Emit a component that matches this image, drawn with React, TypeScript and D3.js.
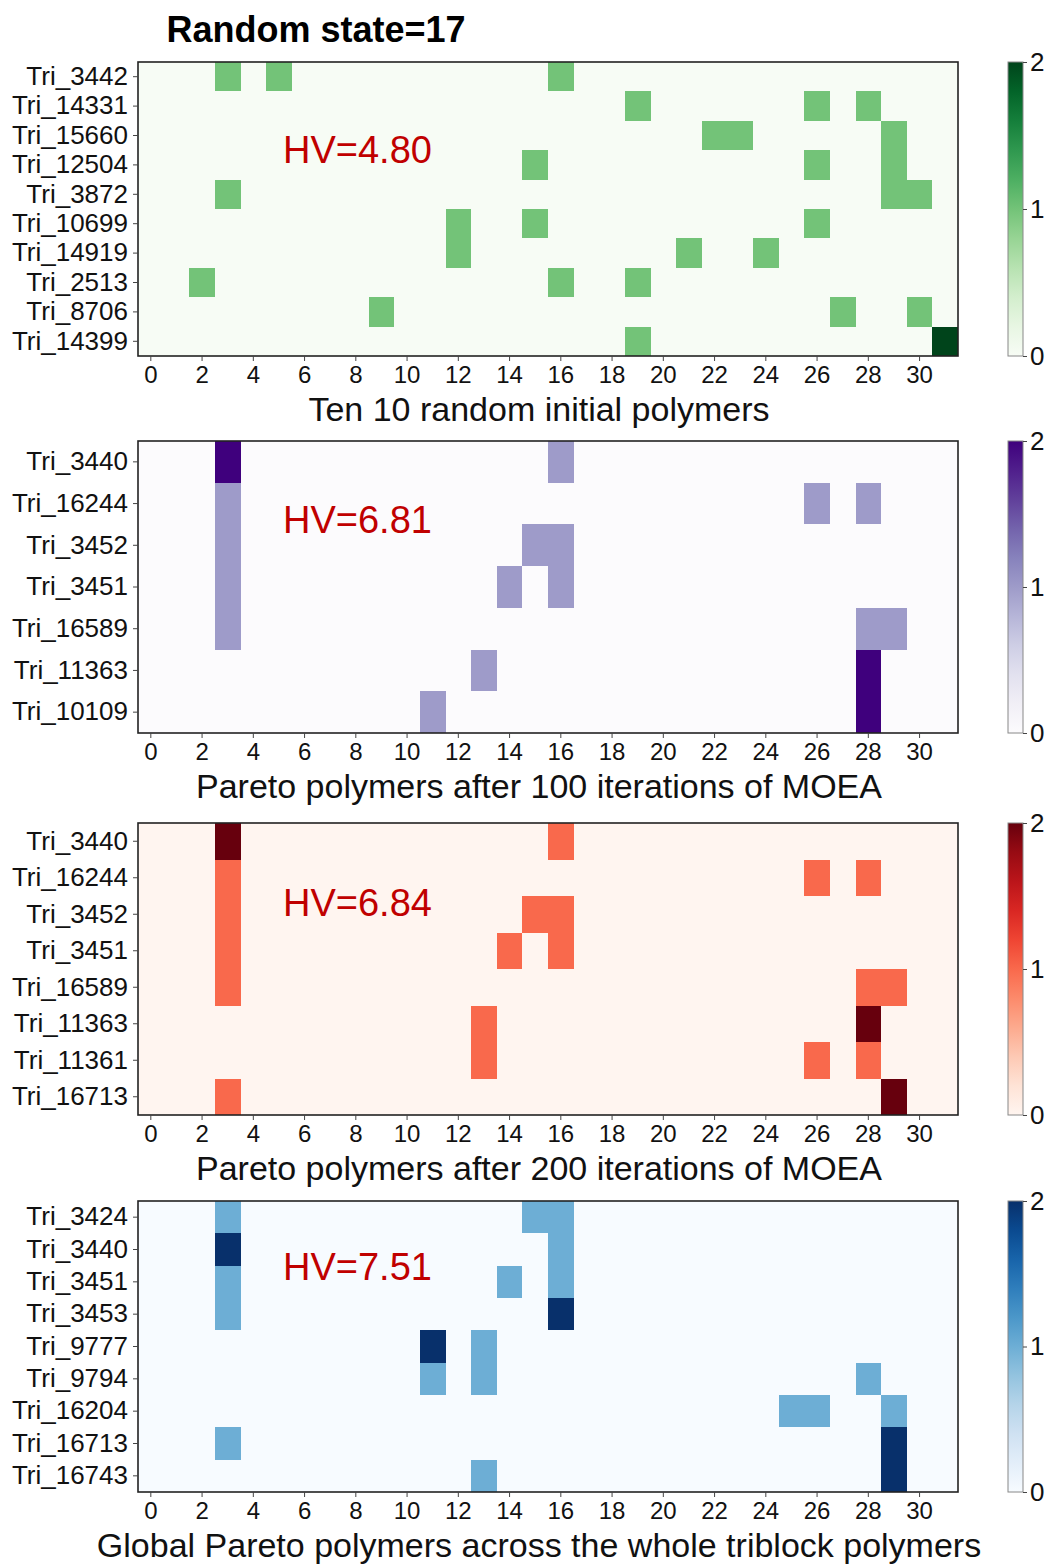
import React, { useEffect, useRef } from 'react';
import * as d3 from 'd3';

// column index along the triblock sequence
const columns = d3.range(0, 32);
const xTickLabels = [0, 2, 4, 6, 8, 10, 12, 14, 16, 18, 20, 22, 24, 26, 28, 30];
const colorbarTicks = [0, 1, 2];

// panel 1: ten random initial polymers
const randomRows = ['Tri_3442', 'Tri_14331', 'Tri_15660', 'Tri_12504', 'Tri_3872', 'Tri_10699', 'Tri_14919', 'Tri_2513', 'Tri_8706', 'Tri_14399'];
const randomCells = [
  [0, 3, 1], [0, 5, 1], [0, 16, 1],
  [1, 19, 1], [1, 26, 1], [1, 28, 1],
  [2, 22, 1], [2, 23, 1], [2, 29, 1],
  [3, 15, 1], [3, 26, 1], [3, 29, 1],
  [4, 3, 1], [4, 29, 1], [4, 30, 1],
  [5, 12, 1], [5, 15, 1], [5, 26, 1],
  [6, 12, 1], [6, 21, 1], [6, 24, 1],
  [7, 2, 1], [7, 16, 1], [7, 19, 1],
  [8, 9, 1], [8, 27, 1], [8, 30, 1],
  [9, 19, 1], [9, 31, 2],
];

// panel 2: after 100 iterations
const iter100Rows = ['Tri_3440', 'Tri_16244', 'Tri_3452', 'Tri_3451', 'Tri_16589', 'Tri_11363', 'Tri_10109'];
const iter100Cells = [
  [0, 3, 2], [0, 16, 1],
  [1, 3, 1], [1, 26, 1], [1, 28, 1],
  [2, 3, 1], [2, 15, 1], [2, 16, 1],
  [3, 3, 1], [3, 14, 1], [3, 16, 1],
  [4, 3, 1], [4, 28, 1], [4, 29, 1],
  [5, 13, 1], [5, 28, 2],
  [6, 11, 1], [6, 28, 2],
];

// panel 3: after 200 iterations
const iter200Rows = ['Tri_3440', 'Tri_16244', 'Tri_3452', 'Tri_3451', 'Tri_16589', 'Tri_11363', 'Tri_11361', 'Tri_16713'];
const iter200Cells = [
  [0, 3, 2], [0, 16, 1],
  [1, 3, 1], [1, 26, 1], [1, 28, 1],
  [2, 3, 1], [2, 15, 1], [2, 16, 1],
  [3, 3, 1], [3, 14, 1], [3, 16, 1],
  [4, 3, 1], [4, 28, 1], [4, 29, 1],
  [5, 13, 1], [5, 28, 2],
  [6, 13, 1], [6, 26, 1], [6, 28, 1],
  [7, 3, 1], [7, 29, 2],
];

// panel 4: global pareto set
const globalRows = ['Tri_3424', 'Tri_3440', 'Tri_3451', 'Tri_3453', 'Tri_9777', 'Tri_9794', 'Tri_16204', 'Tri_16713', 'Tri_16743'];
const globalCells = [
  [0, 3, 1], [0, 15, 1], [0, 16, 1],
  [1, 3, 2], [1, 16, 1],
  [2, 3, 1], [2, 14, 1], [2, 16, 1],
  [3, 3, 1], [3, 16, 2],
  [4, 11, 2], [4, 13, 1],
  [5, 11, 1], [5, 13, 1], [5, 28, 1],
  [6, 25, 1], [6, 26, 1], [6, 29, 1],
  [7, 3, 1], [7, 29, 2],
  [8, 13, 1], [8, 29, 2],
];

const hvLabels = ['HV=4.80', 'HV=6.81', 'HV=6.84', 'HV=7.51'];
const xLabels = [
  'Ten 10 random initial polymers',
  'Pareto polymers after 100 iterations of MOEA',
  'Pareto polymers after 200 iterations of MOEA',
  'Global Pareto polymers across the whole triblock polymers',
];

const FONT = "'Liberation Sans', Arial, sans-serif";

const panels = [
  { rows: randomRows, cells: randomCells, interp: d3.interpolateGreens, top: 62, bottom: 356, hvY: 163 },
  { rows: iter100Rows, cells: iter100Cells, interp: d3.interpolatePurples, top: 441, bottom: 733, hvY: 533 },
  { rows: iter200Rows, cells: iter200Cells, interp: d3.interpolateReds, top: 823, bottom: 1115, hvY: 916 },
  { rows: globalRows, cells: globalCells, interp: d3.interpolateBlues, top: 1201, bottom: 1492, hvY: 1280 },
];

const App = () => {
  const svgRef = useRef(null);

  useEffect(() => {
    const svg = d3.select(svgRef.current);
    svg.selectAll('*').remove();
    const left = 138;
    const right = 958;
    const cbLeft = 1008;
    const cbWidth = 15;

    svg.append('text')
      .attr('x', 316)
      .attr('y', 42)
      .attr('text-anchor', 'middle')
      .style('font-family', FONT)
      .style('font-size', '36px')
      .style('font-weight', 'bold')
      .attr('fill', '#000')
      .text('Random state=17');

    const defs = svg.append('defs');

    panels.forEach((p, i) => {
      const g = svg.append('g');
      const x = d3.scaleBand().domain(columns).range([left, right]);
      const y = d3.scaleBand().domain(p.rows).range([p.top, p.bottom]);
      const color = d3.scaleSequential(p.interp).domain([0, 2]);

      // background = value 0
      g.append('rect')
        .attr('x', left)
        .attr('y', p.top)
        .attr('width', right - left)
        .attr('height', p.bottom - p.top)
        .attr('fill', color(0));

      g.selectAll('.cell')
        .data(p.cells)
        .enter()
        .append('rect')
        .attr('class', 'cell')
        .attr('x', (d) => x(d[1]))
        .attr('y', (d) => y(p.rows[d[0]]))
        .attr('width', x.bandwidth())
        .attr('height', y.bandwidth())
        .attr('shape-rendering', 'crispEdges')
        .attr('fill', (d) => color(d[2]));

      g.append('rect')
        .attr('x', left)
        .attr('y', p.top)
        .attr('width', right - left)
        .attr('height', p.bottom - p.top)
        .attr('fill', 'none')
        .attr('stroke', '#222')
        .attr('stroke-width', 1.6);

      const xAxis = g.append('g')
        .attr('transform', `translate(0,${p.bottom})`)
        .call(d3.axisBottom(x).tickValues(xTickLabels).tickSize(5).tickSizeOuter(0));
      const yAxis = g.append('g')
        .attr('transform', `translate(${left},0)`)
        .call(d3.axisLeft(y).tickSize(5).tickSizeOuter(0));

      [xAxis, yAxis].forEach((a) => {
        a.select('.domain').remove();
        a.selectAll('line').attr('stroke', '#444');
        a.selectAll('text')
          .style('font-family', FONT)
          .attr('fill', '#111');
      });
      xAxis.selectAll('text').attr('dy', null).attr('y', 27).style('font-size', '24px');
      yAxis.selectAll('text').attr('x', -10).style('font-size', '26px');

      g.append('text')
        .attr('x', 539)
        .attr('y', p.bottom + 65)
        .attr('text-anchor', 'middle')
        .style('font-family', FONT)
        .style('font-size', '34px')
        .attr('fill', '#111')
        .text(xLabels[i]);

      g.append('text')
        .attr('x', 283)
        .attr('y', p.hvY)
        .style('font-family', FONT)
        .style('font-size', '38px')
        .attr('fill', '#c00000')
        .text(hvLabels[i]);

      // colorbar
      const gradId = `cb-grad-${i}`;
      const grad = defs.append('linearGradient')
        .attr('id', gradId)
        .attr('x1', 0).attr('y1', 1).attr('x2', 0).attr('y2', 0);
      d3.range(0, 1.0001, 0.1).forEach((t) => {
        grad.append('stop').attr('offset', t).attr('stop-color', p.interp(t));
      });
      g.append('rect')
        .attr('x', cbLeft)
        .attr('y', p.top)
        .attr('width', cbWidth)
        .attr('height', p.bottom - p.top)
        .attr('fill', `url(#${gradId})`)
        .attr('stroke', '#888')
        .attr('stroke-width', 1);

      const cbScale = d3.scaleLinear().domain([0, 2]).range([p.bottom, p.top]);
      const cbAxis = g.append('g')
        .attr('transform', `translate(${cbLeft + cbWidth},0)`)
        .call(d3.axisRight(cbScale).tickValues(colorbarTicks).tickFormat(d3.format('d')).tickSize(4).tickSizeOuter(0));
      cbAxis.select('.domain').remove();
      cbAxis.selectAll('line').attr('stroke', '#444');
      cbAxis.selectAll('text')
        .attr('x', 7)
        .style('font-family', FONT)
        .style('font-size', '26px')
        .attr('fill', '#111');
    });
  }, []);

  return (
    <svg
      ref={svgRef}
      width={1060}
      height={1566}
      style={{ position: 'absolute', left: 0, top: 0, background: '#fff' }}
    />
  );
};

export default App;
